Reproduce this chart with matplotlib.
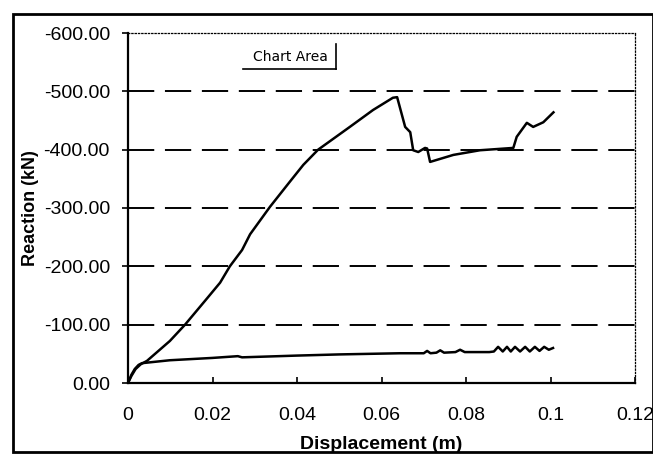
import matplotlib
matplotlib.use("Agg")
import matplotlib.pyplot as plt
from matplotlib.patches import Rectangle
from matplotlib.lines import Line2D

plt.rcParams['font.family'] = ['Liberation Sans Narrow', 'Liberation Sans', 'DejaVu Sans']

# Upper curve: displacement (m) vs reaction (kN)
disp_a = [0.0, 0.0008, 0.0018, 0.0030, 0.0045, 0.0099, 0.0135, 0.0187, 0.0218,
          0.0241, 0.027, 0.0289, 0.0336, 0.0383, 0.0415, 0.045, 0.0525, 0.058, 0.0627,
          0.0637, 0.0656, 0.0668, 0.0675, 0.0687, 0.0703, 0.0708, 0.0715, 0.077,
          0.0833, 0.0912, 0.092, 0.0944, 0.0959, 0.0983, 0.1007]
react_a = [0.0, -12, -24, -32, -38, -72, -100, -145, -172,
           -200, -228, -255, -302, -345, -374, -400, -439, -468, -489,
           -490, -439, -430, -399, -396, -403, -402, -379, -391,
           -399, -403, -422, -446, -439, -447, -464]

# Lower curve
disp_b = [0.0, 0.0008, 0.0016, 0.0025, 0.0033, 0.0099, 0.020, 0.026, 0.027,
          0.040, 0.050, 0.0644, 0.0700, 0.0708, 0.0716, 0.0730, 0.0739, 0.0748,
          0.0775, 0.0786, 0.0797, 0.0855, 0.0866, 0.0876, 0.0887, 0.0897, 0.0906,
          0.0916, 0.0928, 0.0940, 0.0951, 0.0963, 0.0974, 0.0985, 0.0996, 0.1006]
react_b = [0.0, -14, -24, -31, -34, -39, -43, -46, -44,
           -47, -49, -51, -51, -55, -51, -52, -56, -52,
           -53, -57, -53, -53, -54, -62, -54, -62, -54,
           -62, -54, -62, -54, -62, -55, -62, -57, -60]

y_ticks = [0, -100, -200, -300, -400, -500, -600]
x_ticks = [0, 0.02, 0.04, 0.06, 0.08, 0.1, 0.12]
x_labels = ['0', '0.02', '0.04', '0.06', '0.08', '0.1', '0.12']

fig = plt.figure(figsize=(6.53, 4.63), dpi=100)
ax = fig.add_axes([128 / 653, 1 - 383 / 463, 507 / 653, 350 / 463])

ax.plot(disp_a, react_a, color='black', lw=1.8)
ax.plot(disp_b, react_b, color='black', lw=1.8)

ax.set_xlim(0, 0.12)
ax.set_ylim(0, -600)
ax.set_yticks(y_ticks)
ax.set_yticklabels([f'{v:.2f}' for v in y_ticks])
ax.set_xticks(x_ticks)
ax.set_xticklabels(x_labels)

# dashed horizontal grid (not on the top border)
for v in y_ticks[1:-1]:
    ax.axhline(v, color='black', lw=1.4, linestyle=(0, (13.5, 5.5)))

ax.tick_params(axis='y', direction='out', length=4, width=1.2, pad=9, labelsize=14)
ax.tick_params(axis='x', direction='in', length=4, width=1.2, pad=17, labelsize=14)

for side in ['left', 'bottom']:
    ax.spines[side].set_linewidth(1.6)
for side in ['top', 'right']:
    ax.spines[side].set_linewidth(0.9)
    ax.spines[side].set_linestyle(':')

ax.set_xlabel('Displacement (m)', fontsize=14, fontweight='bold', labelpad=9)
ax.set_ylabel('Reaction (kN)', fontsize=13, fontweight='bold', labelpad=3)

# "Chart Area" tooltip
fig.text(290 / 653, 1 - 57 / 463, 'Chart Area', fontsize=10, ha='center', va='center',
         family=['DejaVu Sans'])
fig.add_artist(Line2D([243 / 653, 336 / 653], [1 - 69 / 463, 1 - 69 / 463],
                      color='black', lw=1.2, transform=fig.transFigure))
fig.add_artist(Line2D([336 / 653, 336 / 653], [1 - 69 / 463, 1 - 44 / 463],
                      color='black', lw=1.2, transform=fig.transFigure))

# outer chart border
fig.add_artist(Rectangle((13 / 653, 1 - 452 / 463), 640 / 653, 438 / 463,
                         fill=False, lw=2, edgecolor='black', transform=fig.transFigure))

fig.savefig('out.png', dpi=100)
